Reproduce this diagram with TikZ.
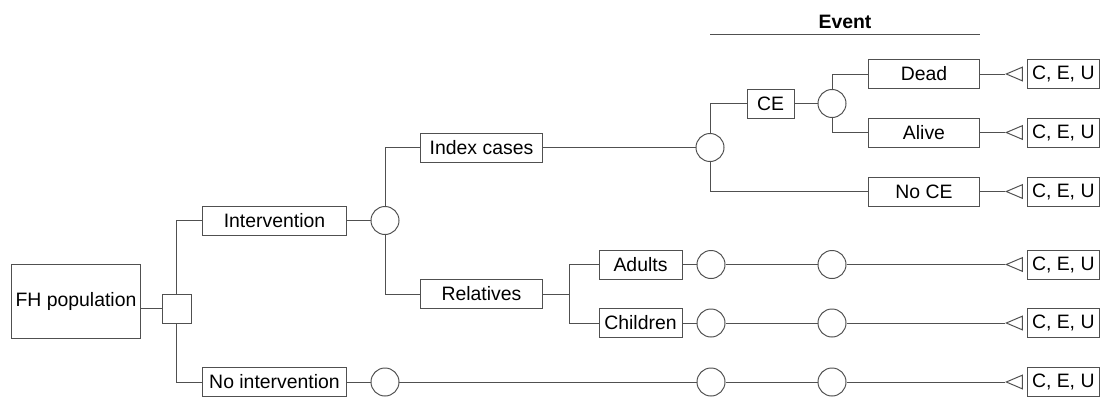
\documentclass[tikz,border=0pt]{standalone}
\usepackage{fontspec}
\setmainfont{Liberation Sans}
\usetikzlibrary{shapes.geometric,positioning}
\definecolor{edge}{HTML}{505050}
\tikzset{
  tbox/.style={draw=edge,line width=0.7pt,minimum height=0.725cm,inner sep=0pt,
    font=\fontsize{13.8}{16}\selectfont},
  chance_node/.style={draw=edge,line width=0.7pt,circle,minimum size=0.7cm,inner sep=0pt},
  decision_node/.style={draw=edge,line width=0.7pt,minimum size=0.725cm,inner sep=0pt},
  term_node/.style={draw=edge,line width=0.7pt,isosceles triangle,shape border rotate=180,
    isosceles triangle stretches,minimum width=0.34cm,minimum height=0.4cm,inner sep=0pt,anchor=apex},
  payoff_box/.style={tbox,minimum width=1.8cm},
  link/.style={draw=edge,line width=0.7pt},
}

\begin{document}
\begin{tikzpicture}[x=0.025cm,y=-0.025cm]
    \useasboundingbox (0,0) rectangle (1101,396);

    % root and first split
    \node[tbox,minimum width=3.2cm,minimum height=1.85cm] (fh) at (76,301) {FH population};
    \node[decision_node] (dec) at (176.5,308.5) {};
    \node[tbox,minimum width=3.575cm] (int) at (274.5,220.5) {Intervention};
    \node[tbox,minimum width=3.575cm] (noint) at (274.5,382) {No intervention};
    \node[chance_node] (c_int) at (385,220.5) {};
    \node[chance_node] (c_no1) at (385,382) {};

    % intervention branch
    \node[tbox,minimum width=3.025cm] (idx) at (481.5,147.5) {Index cases};
    \node[tbox,minimum width=3.025cm] (rel) at (481.5,294) {Relatives};
    \node[chance_node] (c_idx) at (710,147.5) {};
    \node[tbox,minimum width=1.175cm] (ce) at (770.5,103.5) {CE};
    \node[chance_node] (c_ce) at (832,103.5) {};
    \node[tbox,minimum width=2.75cm] (dead) at (924,74) {Dead};
    \node[tbox,minimum width=2.75cm] (alive) at (924,132.5) {Alive};
    \node[tbox,minimum width=2.75cm] (noce) at (924,191.5) {No CE};
    \coordinate (rsplit) at (569,294);
    \node[tbox,minimum width=2.075cm] (adu) at (640.5,264.5) {Adults};
    \node[tbox,minimum width=2.075cm] (chi) at (640.5,323) {Children};
    \node[chance_node] (c_adu1) at (711,264.5) {};
    \node[chance_node] (c_adu2) at (832,264.5) {};
    \node[chance_node] (c_chi1) at (711,323) {};
    \node[chance_node] (c_chi2) at (832,323) {};
    \node[chance_node] (c_no2) at (711,382) {};
    \node[chance_node] (c_no3) at (832,382) {};

    % terminal nodes and payoffs
    \node[term_node] (t_dead) at (1005,74) {};
    \node[term_node] (t_alive) at (1005,132.5) {};
    \node[term_node] (t_noce) at (1005,191.5) {};
    \node[term_node] (t_adu) at (1005,264.5) {};
    \node[term_node] (t_chi) at (1005,323) {};
    \node[term_node] (t_no) at (1005,382) {};
    \node[payoff_box,right=0.1cm of t_dead] (p_dead) {C, E, U};
    \node[payoff_box,right=0.1cm of t_alive] (p_alive) {C, E, U};
    \node[payoff_box,right=0.1cm of t_noce] (p_noce) {C, E, U};
    \node[payoff_box,right=0.1cm of t_adu] (p_adu) {C, E, U};
    \node[payoff_box,right=0.1cm of t_chi] (p_chi) {C, E, U};
    \node[payoff_box,right=0.1cm of t_no] (p_no) {C, E, U};

    % event header
    \node[font=\fontsize{13.8}{16}\selectfont\bfseries] (event) at (845,22) {Event};
    \draw[link] (c_idx |- 0,34) -- (dead.east |- 0,34);

    \draw[link] (dec.west) -- (dec.west -| fh.east);
    \draw[link] (dec.north) |- (int.west);
    \draw[link] (dec.south) |- (noint.west);
    \draw[link] (int) -- (c_int);
    \draw[link] (c_int.north) |- (idx.west);
    \draw[link] (c_int.south) |- (rel.west);
    \draw[link] (idx) -- (c_idx);
    \draw[link] (c_idx.north) |- (ce.west);
    \draw[link] (c_idx.south) |- (noce.west);
    \draw[link] (ce) -- (c_ce);
    \draw[link] (c_ce.north) |- (dead.west);
    \draw[link] (c_ce.south) |- (alive.west);
    \draw[link] (rel.east) -- (rsplit);
    \draw[link] (rsplit) |- (adu.west);
    \draw[link] (rsplit) |- (chi.west);
    \draw[link] (adu) -- (c_adu1);\draw[link] (c_adu1) -- (c_adu2);\draw[link] (c_adu2) -- (t_adu);
    \draw[link] (chi) -- (c_chi1);\draw[link] (c_chi1) -- (c_chi2);\draw[link] (c_chi2) -- (t_chi);
    \draw[link] (noint) -- (c_no1);\draw[link] (c_no1) -- (c_no2);
    \draw[link] (c_no2) -- (c_no3);\draw[link] (c_no3) -- (t_no);
    \draw[link] (dead) -- (t_dead);\draw[link] (alive) -- (t_alive);\draw[link] (noce) -- (t_noce);
  \end{tikzpicture}
\end{document}
